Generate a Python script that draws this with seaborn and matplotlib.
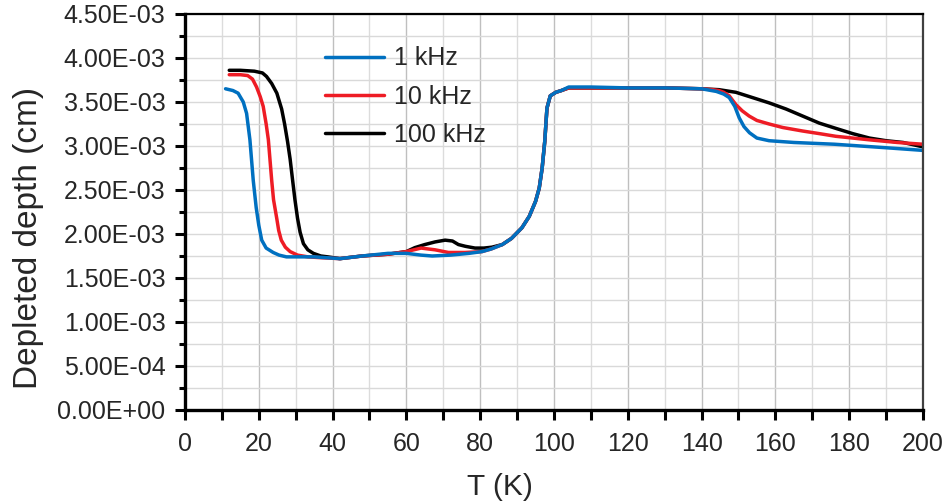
import matplotlib
matplotlib.use("Agg")
import matplotlib.pyplot as plt
import matplotlib.ticker as mticker
import seaborn as sns
import pandas as pd

# 1 kHz curve
t_1k = [11, 13, 14.4, 15.8, 16.7, 17.6, 18.5, 19.3, 20.0, 20.8, 22, 23.9, 25.5, 27.5, 30, 35, 42, 48, 55, 60, 64,
        67, 72, 77, 80.5, 83, 86, 88.5, 91.3, 93.3, 95, 96, 96.8, 97.5, 98.1, 99, 100.5, 102, 104, 110, 120, 130,
        140, 144, 146, 147.5, 149, 150.2, 151.5, 153, 155, 158.3, 165, 176, 190, 200]
d_1k = [3.65, 3.63, 3.60, 3.50, 3.37, 3.07, 2.61, 2.30, 2.10, 1.93, 1.84, 1.79, 1.76, 1.74, 1.74, 1.74, 1.72,
        1.75, 1.78, 1.78, 1.76, 1.75, 1.76, 1.78, 1.80, 1.83, 1.88, 1.95, 2.07, 2.20, 2.37, 2.52, 2.75, 3.05,
        3.43, 3.57, 3.61, 3.63, 3.67, 3.67, 3.66, 3.66, 3.65, 3.62, 3.59, 3.55, 3.45, 3.32, 3.22, 3.15, 3.09,
        3.06, 3.04, 3.02, 2.98, 2.95]

# 10 kHz curve
t_10k = [12, 15, 17, 18.3, 19.4, 20.4, 21.2, 22.0, 22.6, 23.5, 24.0, 24.9, 25.4, 26.1, 27.2, 28.5, 30.5, 33.3,
         37, 42, 48, 55, 60, 64, 67.8, 71.4, 75.9, 80.5, 83, 86, 88.5, 91.3, 93.3, 95, 96, 96.8, 97.5, 98.1, 99,
         100.5, 102, 104, 110, 120, 130, 140, 143, 144.7, 146, 147.5, 149.3, 151, 152.9, 155, 158.3, 162,
         167.4, 172, 176.4, 181, 185.5, 193, 200]
d_10k = [3.81, 3.81, 3.80, 3.76, 3.67, 3.56, 3.45, 3.25, 3.07, 2.61, 2.39, 2.17, 2.04, 1.93, 1.85, 1.80, 1.76,
         1.74, 1.73, 1.72, 1.75, 1.77, 1.80, 1.84, 1.82, 1.79, 1.79, 1.80, 1.83, 1.88, 1.95, 2.07, 2.20, 2.37,
         2.52, 2.75, 3.05, 3.43, 3.57, 3.61, 3.63, 3.66, 3.66, 3.66, 3.66, 3.65, 3.64, 3.63, 3.61, 3.57, 3.47,
         3.40, 3.34, 3.29, 3.25, 3.21, 3.17, 3.14, 3.11, 3.09, 3.07, 3.04, 3.02]

# 100 kHz curve
t_100k = [12, 15, 18.8, 21, 22.1, 23.5, 24.9, 26.2, 27, 27.8, 28.5, 29.2, 29.8, 30.5, 31.2, 32.1, 33.3, 34.8,
          36.8, 38.7, 42, 48, 55, 60, 62.3, 65, 67.8, 70.5, 72.5, 74.1, 76, 78.6, 81, 83.2, 86, 88.5, 91.3,
          93.3, 95, 96, 96.8, 97.5, 98.1, 99, 100.5, 102, 104, 110, 120, 130, 140, 144.7, 149.3, 153.8, 158.3,
          162.9, 167.4, 171.9, 176.4, 181, 185.5, 190, 194.6, 200]
d_100k = [3.86, 3.86, 3.85, 3.83, 3.79, 3.71, 3.60, 3.42, 3.25, 3.05, 2.85, 2.60, 2.39, 2.18, 2.02, 1.89, 1.82,
          1.78, 1.75, 1.74, 1.72, 1.75, 1.77, 1.80, 1.845, 1.88, 1.91, 1.93, 1.92, 1.88, 1.86, 1.84, 1.84, 1.85,
          1.88, 1.95, 2.07, 2.20, 2.37, 2.52, 2.75, 3.05, 3.43, 3.57, 3.61, 3.63, 3.66, 3.66, 3.66, 3.66, 3.65,
          3.64, 3.61, 3.55, 3.49, 3.42, 3.34, 3.26, 3.20, 3.14, 3.09, 3.06, 3.04, 2.99]

labels = ["1 kHz", "10 kHz", "100 kHz"]
colors = ["#0070C0", "#EE1C25", "#000000"]

series = {
    "1 kHz": (t_1k, d_1k),
    "10 kHz": (t_10k, d_10k),
    "100 kHz": (t_100k, d_100k),
}

sns.set_style("ticks")
plt.rcParams["font.family"] = ["Liberation Sans", "DejaVu Sans"]

fig = plt.figure(figsize=(9.52, 5.03), dpi=100)
ax = fig.add_axes([0.1943, 0.1849, 0.7752, 0.7873])

# draw 100 kHz first so the 1 kHz line ends up on top
for lab, col in list(zip(labels, colors))[::-1]:
    t, d = series[lab]
    df = pd.DataFrame({"T": t, "D": [v * 1e-3 for v in d]})
    sns.lineplot(data=df, x="T", y="D", ax=ax, color=col, linewidth=2.5,
                 label=lab, estimator=None, sort=False)

ax.set_xlim(0, 200)
ax.set_ylim(0, 4.5e-3)
ax.xaxis.set_major_locator(mticker.MultipleLocator(20))
ax.xaxis.set_minor_locator(mticker.MultipleLocator(10))
ax.yaxis.set_major_locator(mticker.MultipleLocator(0.5e-3))
ax.yaxis.set_minor_locator(mticker.MultipleLocator(0.25e-3))
ax.yaxis.set_major_formatter(mticker.FuncFormatter(lambda v, p: f"{v:.2E}"))

ax.grid(True, which="major", axis="x", color="#bfbfbf", linewidth=1.0)
ax.grid(True, which="minor", axis="x", color="#dcdcdc", linewidth=1.0)
ax.grid(True, which="both", axis="y", color="#d9d9d9", linewidth=1.0)
ax.set_axisbelow(True)

ax.tick_params(axis="both", which="major", labelsize=18, length=7.5, width=2.2, color="black")
ax.tick_params(axis="x", which="major", pad=8)
ax.tick_params(axis="y", which="major", pad=6.5)
ax.tick_params(axis="x", which="minor", length=7.5, width=2.2, color="black")
ax.tick_params(axis="y", which="minor", length=4, width=2.2, color="black")

for side in ["left", "bottom"]:
    ax.spines[side].set_linewidth(2.4)
    ax.spines[side].set_color("black")
ax.spines["top"].set_linewidth(1.6)
ax.spines["top"].set_color("black")
ax.spines["right"].set_linewidth(1.6)
ax.spines["right"].set_color("#404040")

ax.set_xlabel("T (K)", fontsize=21.5)
ax.set_ylabel("Depleted depth (cm)", fontsize=24)
ax.xaxis.set_label_coords(0.4268, -0.2146)
ax.xaxis.label.set_verticalalignment("baseline")
ax.yaxis.set_label_coords(-0.2127, 0.434)
ax.yaxis.label.set_verticalalignment("center")

handles, labs = ax.get_legend_handles_labels()
order = [labs.index(l) for l in labels]
ax.legend([handles[i] for i in order], [labs[i] for i in order], loc="upper left",
          bbox_to_anchor=(0.173, 0.95), frameon=False, fontsize=18, borderpad=0,
          handlelength=2.36, handletextpad=0.4, labelspacing=0.57)

fig.savefig("out.png", dpi=100)
